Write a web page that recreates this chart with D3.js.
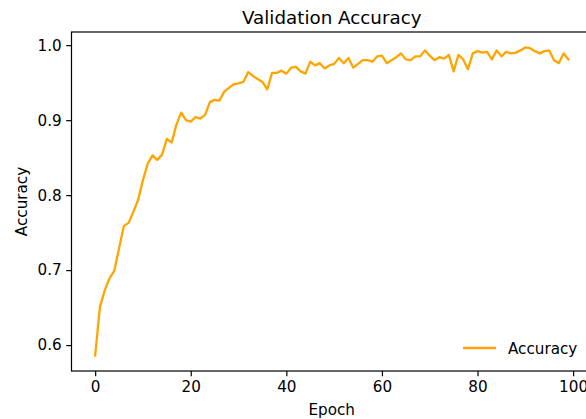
<!DOCTYPE html>
<html>
<head>
<meta charset="utf-8">
<script src="https://cdn.jsdelivr.net/npm/d3@7"></script>
<style>
  body { margin: 0; background: #fff; }
  text { font-family: "DejaVu Sans", sans-serif; fill: #000; }
</style>
</head>
<body>
<div id="chart"></div>
<script>
const epochs = d3.range(0, 100);
const accuracy = [
  0.586, 0.651, 0.673, 0.689, 0.699, 0.729, 0.759, 0.763, 0.778, 0.794,
  0.820, 0.842, 0.853, 0.847, 0.854, 0.875, 0.870, 0.894, 0.910, 0.900,
  0.898, 0.904, 0.902, 0.907, 0.924, 0.927, 0.926, 0.938, 0.943, 0.948,
  0.949, 0.951, 0.964, 0.959, 0.955, 0.951, 0.941, 0.963, 0.963, 0.966,
  0.962, 0.970, 0.971, 0.965, 0.962, 0.978, 0.973, 0.976, 0.969, 0.973,
  0.975, 0.983, 0.976, 0.983, 0.970, 0.975, 0.980, 0.980, 0.978, 0.985,
  0.986, 0.976, 0.980, 0.984, 0.989, 0.981, 0.980, 0.985, 0.985, 0.993,
  0.986, 0.980, 0.984, 0.982, 0.987, 0.965, 0.987, 0.981, 0.968, 0.989,
  0.992, 0.990, 0.991, 0.981, 0.993, 0.985, 0.991, 0.989, 0.990, 0.993,
  0.997, 0.996, 0.992, 0.989, 0.992, 0.993, 0.980, 0.976, 0.989, 0.981
];
const xTicks = [0, 20, 40, 60, 80, 100];
const yTicks = [0.6, 0.7, 0.8, 0.9, 1.0];

const width = 586, height = 419;
const plotLeft = 71.5, plotTop = 32, plotRight = 592, plotBottom = 371;

const svg = d3.select("#chart").append("svg")
    .attr("width", width)
    .attr("height", height);

// matplotlib style 5% margins
const xPad = (d3.max(epochs) - d3.min(epochs)) * 0.05;
const [yMin, yMax] = d3.extent(accuracy);
const yPad = (yMax - yMin) * 0.05;

const x = d3.scaleLinear()
    .domain([d3.min(epochs) - xPad, d3.max(epochs) + xPad])
    .range([plotLeft, plotRight]);
const y = d3.scaleLinear()
    .domain([yMin - yPad, yMax + yPad])
    .range([plotBottom, plotTop]);

const xAxis = svg.append("g")
    .attr("transform", "translate(0," + plotBottom + ")")
    .call(d3.axisBottom(x).tickValues(xTicks).tickSize(5.3).tickPadding(4.5).tickFormat(d3.format("d")));
const yAxis = svg.append("g")
    .attr("transform", "translate(" + plotLeft + ",0)")
    .call(d3.axisLeft(y).tickValues(yTicks).tickSize(5.3).tickPadding(4.5).tickFormat(d3.format(".1f")));

[xAxis, yAxis].forEach(a => {
    a.select(".domain").remove();
    a.selectAll(".tick line").attr("stroke", "#000").attr("stroke-width", 1.2);
    a.selectAll(".tick text").style("font-size", "15.2px").style("font-family", "DejaVu Sans");
});

// frame
svg.append("rect")
    .attr("x", plotLeft).attr("y", plotTop)
    .attr("width", plotRight - plotLeft).attr("height", plotBottom - plotTop)
    .attr("fill", "none").attr("stroke", "#000").attr("stroke-width", 1.2);

const line = d3.line()
    .x((d, i) => x(epochs[i]))
    .y(d => y(d));

svg.append("path")
    .datum(accuracy)
    .attr("fill", "none")
    .attr("stroke", "#FFA500")
    .attr("stroke-width", 2.3)
    .attr("stroke-linejoin", "round")
    .attr("stroke-linecap", "square")
    .attr("d", line);

svg.append("text")
    .attr("x", (plotLeft + plotRight) / 2).attr("y", 24)
    .attr("text-anchor", "middle")
    .style("font-size", "18.3px")
    .text("Validation Accuracy");

svg.append("text")
    .attr("x", (plotLeft + plotRight) / 2).attr("y", 415)
    .attr("text-anchor", "middle")
    .style("font-size", "15.2px")
    .text("Epoch");

svg.append("text")
    .attr("transform", "translate(27," + (plotTop + plotBottom) / 2 + ") rotate(-90)")
    .attr("text-anchor", "middle")
    .style("font-size", "15.2px")
    .text("Accuracy");

// legend
const lg = svg.append("g").attr("transform", "translate(463,348)");
lg.append("line").attr("x1", 0).attr("x2", 33).attr("y1", 0).attr("y2", 0)
    .attr("stroke", "#FFA500").attr("stroke-width", 2.3);
lg.append("text").attr("x", 45).attr("y", 5.5)
    .style("font-size", "15.2px")
    .text("Accuracy");
</script>
</body>
</html>
